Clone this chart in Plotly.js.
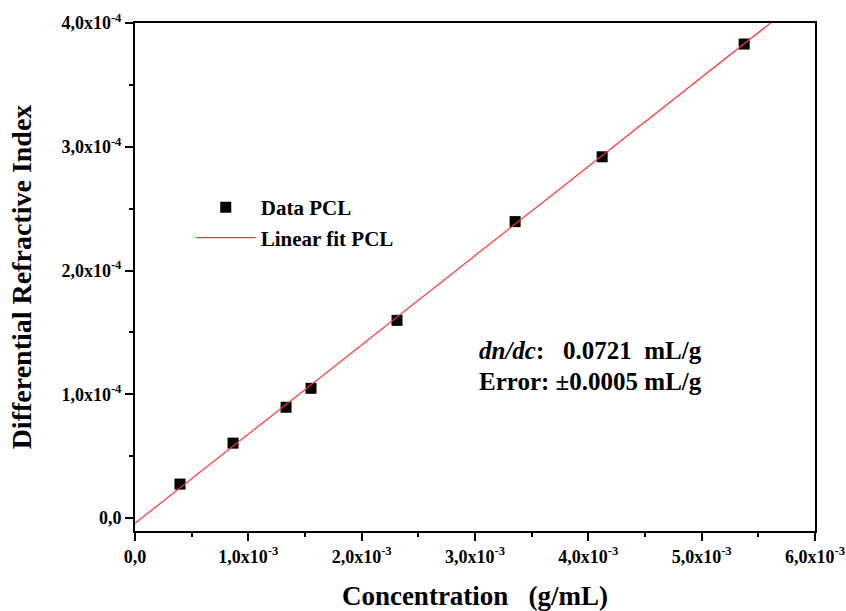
<!DOCTYPE html>
<html>
<head>
<meta charset="utf-8">
<script src="https://cdn.plot.ly/plotly-3.0.1.min.js"></script>
<style>html,body{margin:0;padding:0;background:#fff;}#chart{width:846px;height:611px;}</style>
</head>
<body>
<div id="chart"></div>
<script>
// Measured data (concentration g/mL, differential refractive index)
const concentration = [0.397e-3, 0.865e-3, 1.333e-3, 1.553e-3, 2.312e-3, 3.354e-3, 4.122e-3, 5.375e-3];
const dRI = [2.74e-5, 6.05e-5, 8.95e-5, 1.048e-4, 1.597e-4, 2.395e-4, 2.919e-4, 3.83e-4];
// Linear fit line endpoints
const fitX = [0, 6.0e-3];
const fitY = [-4.3e-6, 4.283e-4];
// Ticks
const xTickVals = [0, 1e-3, 2e-3, 3e-3, 4e-3, 5e-3, 6e-3];
const xTickText = ['0,0', '1,0x10<sup>-3</sup>', '2,0x10<sup>-3</sup>', '3,0x10<sup>-3</sup>', '4,0x10<sup>-3</sup>', '5,0x10<sup>-3</sup>', '6,0x10<sup>-3</sup>'];
const yTickVals = [0, 1e-4, 2e-4, 3e-4, 4e-4];
const yTickText = ['0,0', '1,0x10<sup>-4</sup>', '2,0x10<sup>-4</sup>', '3,0x10<sup>-4</sup>', '4,0x10<sup>-4</sup>'];

const serif = '"Liberation Serif", "Times New Roman", serif';

const traces = [
  {x: concentration, y: dRI, mode: 'markers', type: 'scatter', name: 'Data PCL',
   marker: {symbol: 'square', size: 11, color: '#000'}},
  {x: fitX, y: fitY, mode: 'lines', type: 'scatter', name: 'Linear fit PCL',
   line: {color: '#ff3333', width: 1.2}}
];

const axisCommon = {
  showline: true, linecolor: '#000', linewidth: 2, mirror: true,
  ticks: 'outside', ticklen: 8, tickwidth: 2, tickcolor: '#000',
  showgrid: false, zeroline: false,
  tickfont: {family: serif, size: 18, color: '#000', weight: 'bold'},
  tickmode: 'array'
};

const layout = {
  width: 846, height: 611,
  margin: {l: 135, r: 31, t: 23, b: 80},
  paper_bgcolor: '#fff', plot_bgcolor: '#fff',
  showlegend: true,
  legend: {x: 0.082, y: 0.677, xanchor: 'left', yanchor: 'top', bgcolor: 'rgba(0,0,0,0)',
           font: {family: serif, size: 21, color: '#000', weight: 'bold'}, itemwidth: 60, tracegroupgap: 0},
  xaxis: Object.assign({}, axisCommon, {
    range: [0, 6e-3], tickvals: xTickVals, ticktext: xTickText,
    minor: {ticks: 'outside', ticklen: 4, tickwidth: 2, tickcolor: '#000', tickvals: [0.5e-3, 1.5e-3, 2.5e-3, 3.5e-3, 4.5e-3, 5.5e-3]},
    title: {text: 'Concentration   (g/mL)', font: {family: serif, size: 27, color: '#000', weight: 'bold'}, standoff: 22}
  }),
  yaxis: Object.assign({}, axisCommon, {
    range: [-1.05e-5, 4e-4], tickvals: yTickVals, ticktext: yTickText,
    minor: {ticks: 'outside', ticklen: 4, tickwidth: 2, tickcolor: '#000', tickvals: [0.5e-4, 1.5e-4, 2.5e-4, 3.5e-4]},
    title: {text: 'Differential Refractive Index', font: {family: serif, size: 28, color: '#000', weight: 'bold'}, standoff: 22}
  }),
  annotations: [
    {xref: 'paper', yref: 'paper', x: 0.503, y: 0.356, xanchor: 'left', yanchor: 'middle', showarrow: false, align: 'left',
     text: '<i>dn/dc</i>:   0.0721  mL/g', font: {family: serif, size: 25, color: '#000', weight: 'bold'}},
    {xref: 'paper', yref: 'paper', x: 0.503, y: 0.295, xanchor: 'left', yanchor: 'middle', showarrow: false, align: 'left',
     text: 'Error: ±0.0005 mL/g', font: {family: serif, size: 25, color: '#000', weight: 'bold'}}
  ]
};

Plotly.newPlot('chart', traces, layout, {displayModeBar: false, staticPlot: true});
</script>
</body>
</html>
